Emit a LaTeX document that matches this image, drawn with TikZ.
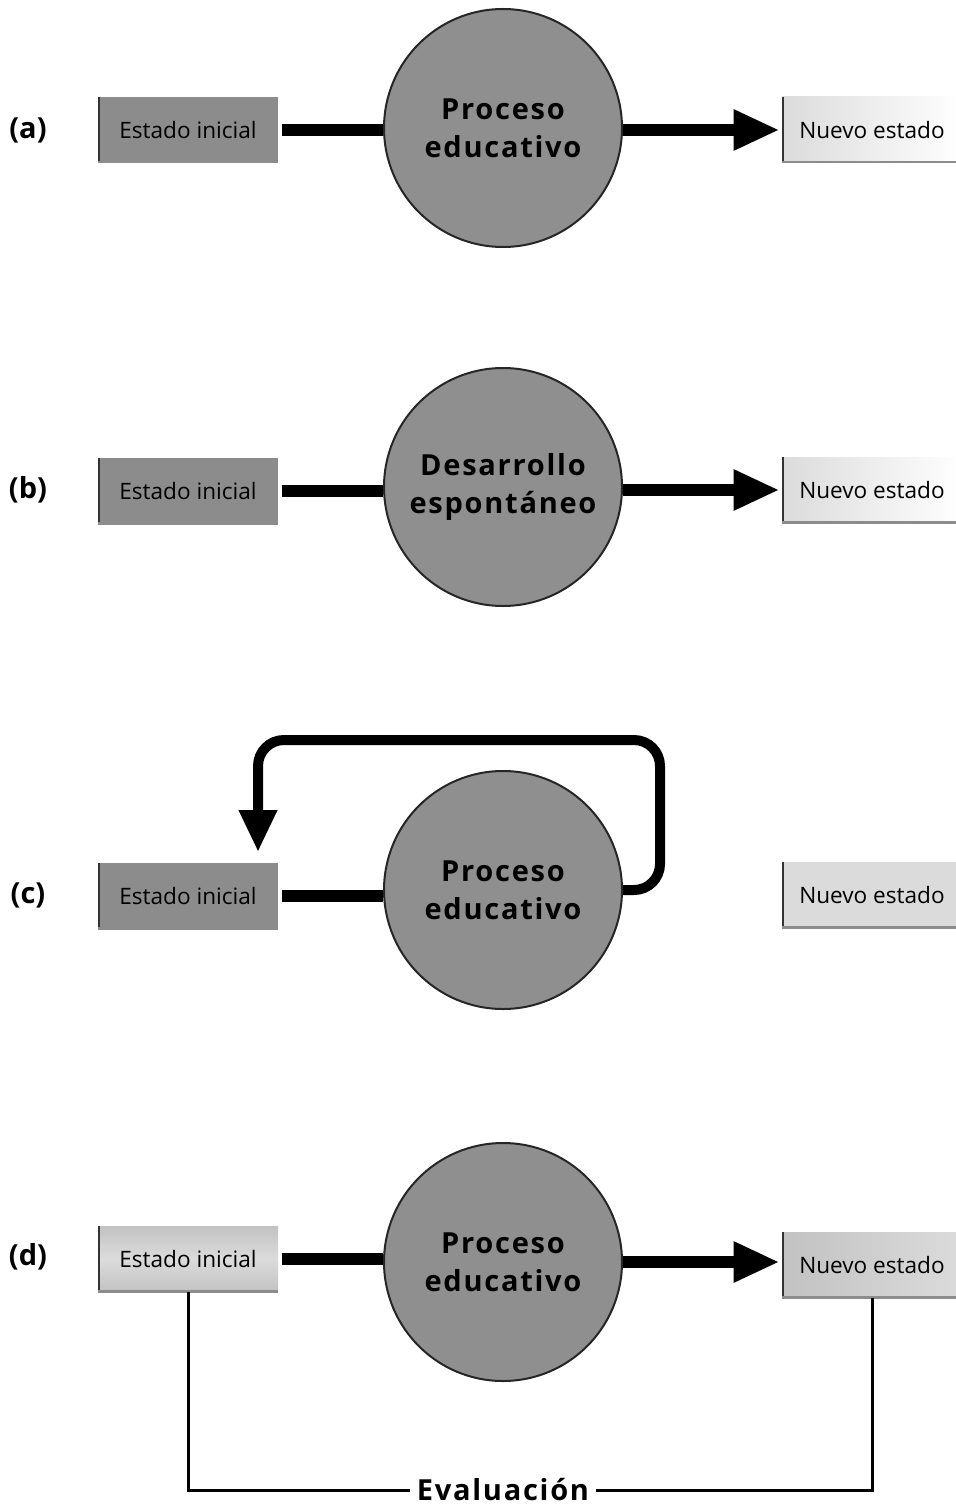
\documentclass[tikz,border=0pt]{standalone}
\usepackage{fontspec}
\setmainfont{Open Sans}
\newfontfamily\anchafont{Open Sans}[LetterSpace=6]
\usetikzlibrary{arrows.meta}

\definecolor{grisosc}{gray}{0.55}
\definecolor{grisproc}{gray}{0.56}
\definecolor{grisclaro}{gray}{0.86}
\definecolor{grismedio}{gray}{0.76}

\begin{document}
\begin{tikzpicture}[x=0.5pt,y=-0.5pt,
  estado/.style={minimum width=90pt,minimum height=33pt,inner sep=0pt,
    font=\fontsize{11.3}{13}\selectfont,
    path picture={
      \draw[line width=2.4pt,black!80] (path picture bounding box.north west) -- (path picture bounding box.south west);
      \draw[line width=2pt,black!45] (path picture bounding box.south west) -- (path picture bounding box.south east);}},
  proceso/.style={circle,minimum size=119pt,inner sep=0pt,fill=grisproc,draw=black!85,line width=1pt,
    align=center,font=\anchafont\bfseries\fontsize{14.5}{19}\selectfont},
  etiqueta/.style={font=\bfseries\fontsize{14.5}{16}\selectfont},
  barra/.style={line width=6pt,black},
  flecha/.style={barra,-{Triangle[length=23pt,width=19pt]}},
  evalline/.style={line width=1.5pt,black}]

  \useasboundingbox (0,0) rectangle (955,1508);

  % Labels of the four cases
  \foreach \lab/\y in {a/130,b/490,c/895,d/1257} {
    \node[etiqueta] (lab\lab) at (28,\y) {(\lab)};
  }

  % (a)
  \node[estado,fill=grisosc] (ei1) at (188,130) {Estado inicial};
  \node[proceso] (pe1) at (503,128) {Proceso\\educativo};
  \node[estado,left color=grisclaro,right color=white] (ne1) at (872,130) {Nuevo estado};
  \draw[barra,shorten <=2pt] (ei1.east) -- (ei1.east -| pe1.west);
  \draw[flecha,shorten >=1pt] (pe1.east |- ne1.west) -- (ne1.west);

  % (b)
  \node[estado,fill=grisosc] (ei2) at (188,491) {Estado inicial};
  \node[proceso] (pe2) at (503,487) {Desarrollo\\espontáneo};
  \node[estado,left color=grisclaro,right color=white] (ne2) at (872,490) {Nuevo estado};
  \draw[barra,shorten <=2pt] (ei2.east) -- (ei2.east -| pe2.west);
  \draw[flecha,shorten >=1pt] (pe2.east |- ne2.west) -- (ne2.west);

  % (c)
  \node[estado,fill=grisosc] (ei3) at (188,896) {Estado inicial};
  \node[proceso] (pe3) at (503,890) {Proceso\\educativo};
  \node[estado,fill=grisclaro] (ne3) at (872,895) {Nuevo estado};
  \coordinate (vuelta3) at (660,740);
  \coordinate (punta3) at (258,852);
  \draw[barra,shorten <=2pt] (ei3.east) -- (ei3.east -| pe3.west);
  \draw[barra,line width=5pt,rounded corners=13pt,-{Triangle[length=21pt,width=18pt]}]
    (pe3.east) -| (vuelta3) -| (punta3);

  % (d)
  \node[estado,top color=grismedio,bottom color=grismedio,middle color=grisclaro] (ei4) at (188,1259) {Estado inicial};
  \node[proceso] (pe4) at (503,1262) {Proceso\\educativo};
  \node[estado,left color=grismedio,right color=grisclaro] (ne4) at (872,1265) {Nuevo estado};
  \draw[barra,shorten <=2pt] (ei4.east) -- (ei4.east -| pe4.west);
  \draw[flecha,shorten >=1pt] (pe4.east) -- (pe4.east -| ne4.west);

  % Evaluation line
  \node[font=\anchafont\bfseries\fontsize{14.5}{16}\selectfont] (eval) at (503,1490) {Evaluación};
  \draw[evalline] (ei4.south) |- (eval.west);
  \draw[evalline] (ne4.south) |- (eval.east);

\end{tikzpicture}
\end{document}
